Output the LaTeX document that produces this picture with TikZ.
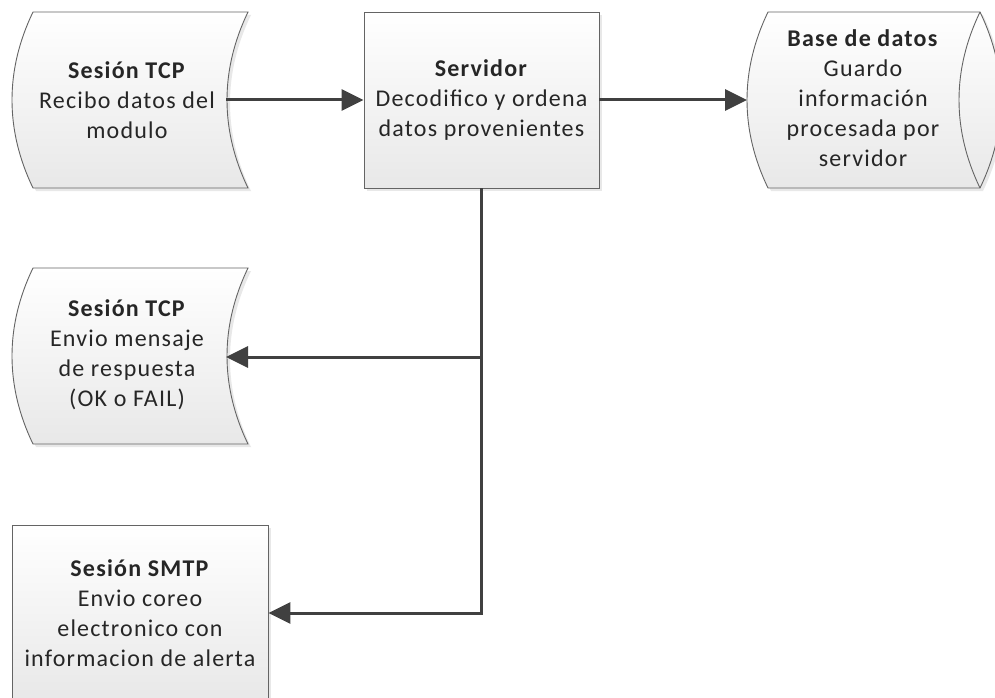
\documentclass[tikz,border=0pt]{standalone}
\usepackage{fontspec}
\setmainfont{Carlito}[LetterSpace=5]
\usetikzlibrary{arrows.meta,shadows}
\definecolor{edge}{RGB}{100,100,100}
\definecolor{conncol}{RGB}{64,64,64}
\definecolor{fillbot}{RGB}{232,232,232}
\begin{document}
\begin{tikzpicture}[x=1pt,y=-1pt,
  shapebox/.style={draw=edge, line width=0.9pt, top color=white, bottom color=fillbot,
     drop shadow={shadow xshift=3pt, shadow yshift=-3pt, opacity=0.18, fill=gray}},
  txt/.style={align=center, font=\fontsize{24}{30}\selectfont, text=black!85},
  rectnode/.style={shapebox, txt, minimum height=176pt, inner sep=0pt},
  conn/.style={draw=conncol, line width=3pt, -{Triangle[length=22pt,width=21pt]}}
]
\useasboundingbox (0,0) rectangle (995,698);

% Sesion TCP 1
\path[shapebox] (33,12) -- (248,12) .. controls (220,70) and (220,130) .. (248,188)
   -- (33,188) .. controls (5,130) and (5,70) .. (33,12) -- cycle;
\node[txt] (tcp1) at (127,100) {\textbf{Sesión TCP}\\Recibo datos del\\modulo};
\coordinate (tcp1p) at (226,100);

% Servidor
\node[rectnode, minimum width=235pt] (serv) at (481.5,100)
  {\textbf{Servidor}\\Decodifico y ordena\\datos provenientes};

% Base de datos
\path[shapebox] (768,12) -- (980,12) .. controls (1008,70) and (1008,130) .. (980,188)
   -- (768,188) .. controls (740,130) and (740,70) .. (768,12) -- cycle;
\draw[draw=edge, line width=0.9pt] (980,12) .. controls (952,70) and (952,130) .. (980,188);
\node[txt] (db) at (863,98) {\textbf{Base de datos}\\Guardo\\información\\procesada por\\servidor};
\coordinate (dbp) at (747,100);

% Sesion TCP 2
\path[shapebox] (33,268) -- (248,268) .. controls (220,326) and (220,386) .. (248,444)
   -- (33,444) .. controls (5,386) and (5,326) .. (33,268) -- cycle;
\node[txt] (tcp2) at (127,355) {\textbf{Sesión TCP}\\Envio mensaje\\de respuesta\\(OK o FAIL)};
\coordinate (tcp2p) at (226,357);

% Sesion SMTP
\node[rectnode, minimum width=256pt] (smtp) at (140,613)
  {\textbf{Sesión SMTP}\\Envio coreo\\electronico con\\informacion de alerta};

% connectors
\draw[conn] (tcp1p) -- (serv.west);
\draw[conn] (serv.east) -- (dbp);
\draw[conn] (serv.south) |- (smtp.east);
\draw[conn] (serv.south |- tcp2p) -- (tcp2p);
\end{tikzpicture}
\end{document}
